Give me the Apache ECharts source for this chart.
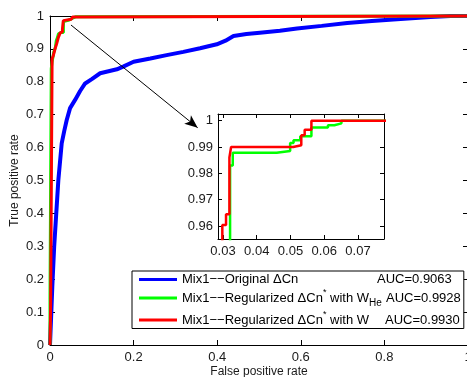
<!DOCTYPE html>
<html>
<head>
<meta charset="utf-8">
<script src="https://cdn.jsdelivr.net/npm/echarts@6/dist/echarts.min.js"></script>
<style>
  html, body { margin: 0; padding: 0; background: #fff; }
  #chart { width: 467px; height: 377px; }
</style>
</head>
<body>
<div id="chart"></div>
<script>
// ROC curves
const blueFpr = [0, 0.0024, 0.0055, 0.01, 0.014, 0.02, 0.028, 0.034, 0.04, 0.048, 0.06, 0.072, 0.084, 0.1, 0.12, 0.16, 0.175, 0.2, 0.24, 0.279, 0.319, 0.359, 0.399, 0.42, 0.439, 0.47, 0.502, 0.55, 0.591, 0.65, 0.711, 0.77, 0.83, 0.91, 0.958, 1];
const blueTpr = [0, 0.076, 0.177, 0.3, 0.38, 0.502, 0.613, 0.65, 0.684, 0.72, 0.745, 0.772, 0.795, 0.808, 0.826, 0.838, 0.846, 0.861, 0.871, 0.881, 0.891, 0.902, 0.914, 0.925, 0.939, 0.945, 0.949, 0.955, 0.962, 0.97, 0.979, 0.985, 0.99, 0.997, 1, 1];

const greenFpr = [0, 0, 0.003, 0.003, 0.005, 0.007, 0.009, 0.013, 0.015, 0.018, 0.02, 0.026, 0.0321, 0.0321, 0.0329, 0.0329, 0.0459, 0.0459, 0.0499, 0.0499, 0.0509, 0.0509, 0.0529, 0.0529, 0.0562, 0.0562, 0.0611, 0.0611, 0.063, 0.063, 0.0651, 0.0651, 1];
const greenTpr = [0, 0.14, 0.14, 0.84, 0.86, 0.875, 0.89, 0.905, 0.925, 0.935, 0.945, 0.95, 0.95, 0.983, 0.983, 0.9878, 0.9878, 0.9885, 0.9885, 0.9915, 0.9915, 0.9926, 0.9926, 0.9941, 0.9941, 0.9974, 0.9974, 0.9983, 0.9983, 0.999, 0.999, 1, 1];

const redFpr = [0, 0.0015, 0.005, 0.005, 0.008, 0.012, 0.016, 0.02, 0.024, 0.0298, 0.0298, 0.0309, 0.0309, 0.0319, 0.0319, 0.0324, 0.0324, 0.0508, 0.0508, 0.0532, 0.0532, 0.0542, 0.0542, 0.0562, 0.0562, 1];
const redTpr = [0, 0.12, 0.12, 0.87, 0.88, 0.9, 0.916, 0.935, 0.948, 0.952, 0.9604, 0.9604, 0.9645, 0.9645, 0.986, 0.986, 0.99, 0.99, 0.9907, 0.9907, 0.9945, 0.9945, 0.9966, 0.9966, 1, 1];

const seriesNames = ['Mix1--Original ΔCn', 'Mix1--Regularized ΔCn* with W_He', 'Mix1--Regularized ΔCn* with W'];
const aucLabels = ['AUC=0.9063', 'AUC=0.9928', 'AUC=0.9930'];
const insetXTicks = [0.03, 0.04, 0.05, 0.06, 0.07];
const insetYTicks = [0.96, 0.97, 0.98, 0.99, 1];

const font = 'Liberation Sans, Arial, Helvetica, sans-serif';
const zip = (xs, ys) => xs.map((x, i) => [x, ys[i]]);

// legend text pieces (rich text), AUC pushed to its column with a gap token
const legendParts = [
  [['t', 'Mix1−−Original ΔCn']],
  [['t', 'Mix1−−Regularized ΔCn'], ['sup', '*'], ['t', ' with W'], ['sub', 'He']],
  [['t', 'Mix1−−Regularized ΔCn'], ['sup', '*'], ['t', ' with W']]
];
const aucOffset = [195, 204, 203];
const sizes = { t: 13, sup: 9, sub: 10 };
const ctx = document.createElement('canvas').getContext('2d');
const textW = (s, size) => { ctx.font = size + 'px "Liberation Sans"'; return ctx.measureText(s).width; };

const rich = {
  t: { fontSize: 13, lineHeight: 20, color: '#000', fontFamily: font },
  sup: { fontSize: 9, lineHeight: 9, verticalAlign: 'top', color: '#000', fontFamily: font },
  sub: { fontSize: 10, lineHeight: 10, verticalAlign: 'bottom', color: '#000', fontFamily: font }
};
legendParts.forEach((parts, i) => {
  const used = parts.reduce((s, p) => s + textW(p[1], sizes[p[0]]), 0);
  rich['g' + i] = { width: Math.max(4, aucOffset[i] - used), lineHeight: 20 };
});

const myChart = echarts.init(document.getElementById('chart'));

const axisCommon = {
  type: 'value',
  axisLine: { show: true, onZero: false, lineStyle: { color: '#000', width: 1 } },
  axisTick: { show: true, inside: true, length: 5, lineStyle: { color: '#000' } },
  splitLine: { show: false },
  axisLabel: { color: '#1a1a1a', fontSize: 13, fontFamily: font, margin: 6 }
};
const hiddenLabels = { show: false };

const option = {
  animation: false,
  backgroundColor: '#fff',
  grid: [
    { left: 50, top: 16, width: 418, height: 329, containLabel: false, outerBoundsMode: 'none' },
    { left: 218, top: 114, width: 166, height: 125, containLabel: false, outerBoundsMode: 'none', show: true, backgroundColor: '#fff', borderWidth: 0, z: 3 }
  ],
  xAxis: [
    Object.assign({}, axisCommon, {
      gridIndex: 0, position: 'bottom', min: 0, max: 1, interval: 0.2,
      name: 'False positive rate', nameLocation: 'middle', nameGap: 21, nameMoveOverlap: false,
      nameTextStyle: { color: '#1a1a1a', fontSize: 12, fontFamily: font }
    }),
    Object.assign({}, axisCommon, { gridIndex: 0, position: 'top', min: 0, max: 1, interval: 0.2, axisLabel: hiddenLabels }),
    Object.assign({}, axisCommon, {
      gridIndex: 1, position: 'bottom', min: 0.02852, max: 0.07771, z: 4,
      axisTick: { show: true, inside: true, length: 4, customValues: insetXTicks, lineStyle: { color: '#000' } },
      axisLabel: Object.assign({}, axisCommon.axisLabel, { customValues: insetXTicks })
    }),
    Object.assign({}, axisCommon, {
      gridIndex: 1, position: 'top', min: 0.02852, max: 0.07771, z: 4,
      axisTick: { show: true, inside: true, length: 4, customValues: insetXTicks, lineStyle: { color: '#000' } },
      axisLabel: { show: false, customValues: insetXTicks }
    })
  ],
  yAxis: [
    Object.assign({}, axisCommon, {
      gridIndex: 0, position: 'left', min: 0, max: 1, interval: 0.1,
      name: 'True positive rate', nameLocation: 'middle', nameGap: 29, nameMoveOverlap: false,
      nameTextStyle: { color: '#1a1a1a', fontSize: 12, fontFamily: font }
    }),
    Object.assign({}, axisCommon, { gridIndex: 0, position: 'right', min: 0, max: 1, interval: 0.1, axisLabel: hiddenLabels }),
    Object.assign({}, axisCommon, {
      gridIndex: 1, position: 'left', min: 0.95506, max: 1.00255, z: 4,
      axisTick: { show: true, inside: true, length: 4, customValues: insetYTicks, lineStyle: { color: '#000' } },
      axisLabel: Object.assign({}, axisCommon.axisLabel, { margin: 5, customValues: insetYTicks })
    }),
    Object.assign({}, axisCommon, {
      gridIndex: 1, position: 'right', min: 0.95506, max: 1.00255, z: 4,
      axisTick: { show: true, inside: true, length: 4, customValues: insetYTicks, lineStyle: { color: '#000' } },
      axisLabel: { show: false, customValues: insetYTicks }
    })
  ],
  legend: {
    data: seriesNames,
    orient: 'vertical',
    left: 132,
    top: 271,
    padding: [2, 3, 2, 7],
    itemGap: 2,
    itemWidth: 38,
    itemHeight: 3,
    icon: 'rect',
    backgroundColor: '#fff',
    borderColor: '#000',
    borderWidth: 1,
    borderRadius: 0,
    selectedMode: false,
    textStyle: { rich: rich },
    formatter: (name) => {
      const i = seriesNames.indexOf(name);
      const body = legendParts[i].map(p => '{' + p[0] + '|' + p[1] + '}').join('');
      return body + '{g' + i + '| }{t|' + aucLabels[i] + '}';
    }
  },
  series: [
    {
      name: seriesNames[0], type: 'line', xAxisIndex: 0, yAxisIndex: 0,
      data: zip(blueFpr, blueTpr), showSymbol: false, clip: false,
      lineStyle: { color: '#0000ff', width: 4 }, itemStyle: { color: '#0000ff' }
    },
    {
      name: seriesNames[1], type: 'line', xAxisIndex: 0, yAxisIndex: 0,
      data: zip(greenFpr, greenTpr), showSymbol: false, clip: false,
      lineStyle: { color: '#00ff00', width: 3 }, itemStyle: { color: '#00ff00' }
    },
    {
      name: seriesNames[2], type: 'line', xAxisIndex: 0, yAxisIndex: 0,
      data: zip(redFpr, redTpr), showSymbol: false, clip: false,
      lineStyle: { color: '#ff0000', width: 3 }, itemStyle: { color: '#ff0000' },
      markLine: {
        silent: true,
        animation: false,
        label: { show: false },
        symbolSize: [8, 13],
        lineStyle: { color: '#000', width: 1, type: 'solid' },
        data: [[
          { coord: [0.0502, 0.9726], symbol: 'none' },
          { coord: [0.3533, 0.6605], symbol: 'arrow' }
        ]]
      }
    },
    {
      name: seriesNames[1], type: 'line', xAxisIndex: 2, yAxisIndex: 2, z: 5,
      data: zip(greenFpr, greenTpr), showSymbol: false, clip: true,
      lineStyle: { color: '#00ff00', width: 2.5 }, itemStyle: { color: '#00ff00' }
    },
    {
      name: seriesNames[2], type: 'line', xAxisIndex: 2, yAxisIndex: 2, z: 5,
      data: zip(redFpr, redTpr), showSymbol: false, clip: true,
      lineStyle: { color: '#ff0000', width: 2.5 }, itemStyle: { color: '#ff0000' }
    }
  ]
};

myChart.setOption(option);
</script>
</body>
</html>
